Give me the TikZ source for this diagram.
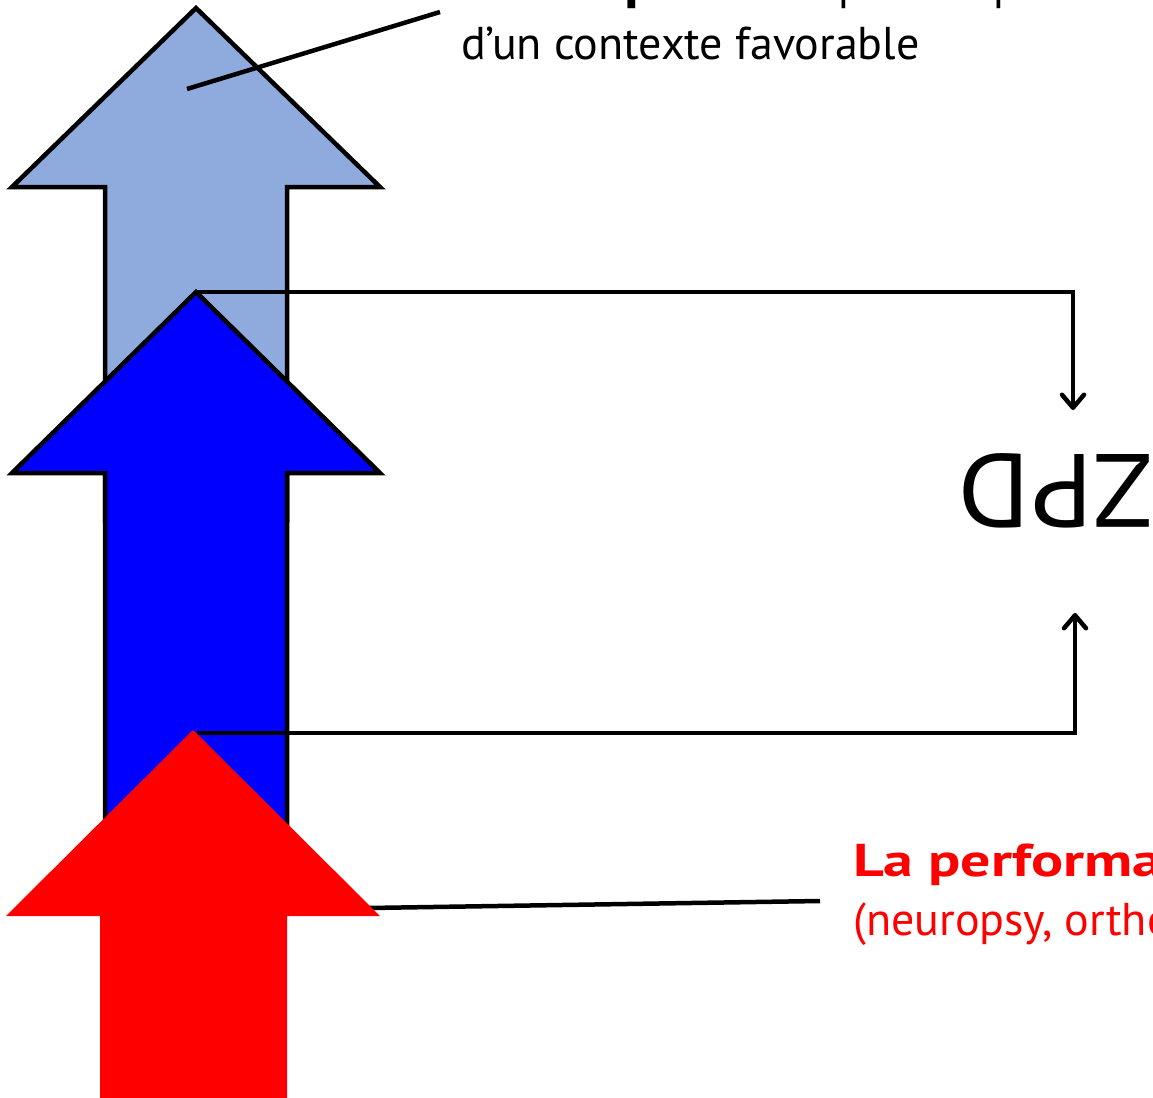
\documentclass[tikz,border=0pt]{standalone}
\usepackage{fontspec}
\setmainfont{PT Sans}[BoldFeatures={FakeStretch=1.3}]
\usetikzlibrary{arrows.meta}
\definecolor{lightblue}{RGB}{143,170,220}
\definecolor{pureblue}{RGB}{0,0,255}
\definecolor{purered}{RGB}{255,0,0}
\tikzset{
  bigarrow/.style={draw=black, line width=4.5pt, line join=miter},
  leader/.style={draw=black, line width=4.5pt},
  conn/.style={draw=black, line width=4.5pt, -{Straight Barb[length=13pt,width=22pt,line cap=round,line join=round]}},
  txt/.style={font=\fontsize{46}{54}\selectfont, anchor=base west, inner sep=0pt, align=left},
}
\begin{document}
\begin{tikzpicture}[x=1pt,y=-1pt]
\useasboundingbox (0,0) rectangle (1153,1097);
\fill[white] (0,0) rectangle (1153,1097);
% light blue arrow
\filldraw[bigarrow, fill=lightblue] (196,8) -- (380,187) -- (287,187) -- (287,520) -- (105,520) -- (105,187) -- (12,187) -- cycle;
% blue arrow
\filldraw[bigarrow, fill=pureblue] (196,292) -- (380,473) -- (287,473) -- (287,900) -- (105,900) -- (105,473) -- (12,473) -- cycle;
% coordinates
\coordinate (bluetip) at (196,292);
\coordinate (zpdin1) at (1073,410);
\coordinate (redtip) at (197,733);
\coordinate (zpdin2) at (1075,613);
\coordinate (lbpoint) at (187,89);
\coordinate (lbend) at (440,12);
\coordinate (redpoint) at (368,908);
\coordinate (redend) at (820,901);
% texts
\node[txt] (comp1) at (461,0) {La \textbf{compétence} peut se prouver par le biais};
\node[txt] (comp2) at (461,60) {d’un contexte favorable};
\node[txt, text=purered] (perf1) at (853,876) {\textbf{La performance} : ce que l’enfant fait seul};
\node[txt, text=purered] (perf2) at (853,935) {(neuropsy, orthophonie, ...)};
\node[rotate=180, inner sep=0pt, font=\fontsize{104}{110}\selectfont] (zpd) at (1056,491) {\scalebox{1.07}[1]{ZPD}};
% connectors
\draw[conn] (bluetip) -| (zpdin1);
\draw[conn] (redtip) -| (zpdin2);
\draw[leader] (lbpoint) -- (lbend);
\draw[leader] (redpoint) -- (redend);
% red arrow
\fill[purered] (193,730) -- (380,916) -- (287,916) -- (287,1110) -- (100,1110) -- (100,916) -- (6,916) -- cycle;
\end{tikzpicture}
\end{document}
